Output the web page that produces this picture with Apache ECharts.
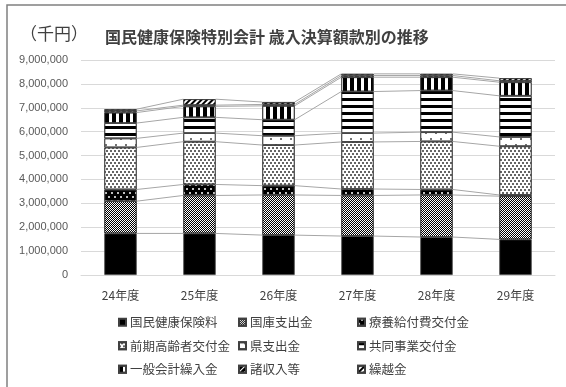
<!DOCTYPE html>
<html><head><meta charset="utf-8">
<script src="https://cdn.jsdelivr.net/npm/echarts@6/dist/echarts.min.js"></script>
<style>html,body{margin:0;padding:0;background:#fff}#c{width:566px;height:387px}</style>
</head><body><div id="c"></div>
<script>
const categories = ['24年度','25年度','26年度','27年度','28年度','29年度'];
const hokenryo   = [1740000, 1740000, 1670000, 1630000, 1590000, 1490000];
const kokko      = [1350000, 1590000, 1680000, 1700000, 1760000, 1810000];
const ryoyo      = [490000, 460000, 390000, 270000, 230000, 50000];
const zenki      = [1760000, 1790000, 1700000, 1970000, 2010000, 2040000];
const ken        = [380000, 360000, 390000, 370000, 390000, 390000];
const kyodo      = [640000, 660000, 670000, 1740000, 1740000, 1720000];
const ippan      = [440000, 460000, 580000, 600000, 560000, 570000];
const shoshunyu  = [70000, 50000, 60000, 70000, 70000, 60000];
const kurikoshi  = [70000, 250000, 100000, 70000, 70000, 110000];
const seriesNames = ['国民健康保険料','国庫支出金','療養給付費交付金','前期高齢者交付金','県支出金','共同事業交付金','一般会計繰入金','諸収入等','繰越金'];
const yTicks = [0,1000000,2000000,3000000,4000000,5000000,6000000,7000000,8000000,9000000];

const seriesData = [hokenryo,kokko,ryoyo,zenki,ken,kyodo,ippan,shoshunyu,kurikoshi];
const styles = [
  {color:'#000'},
  {color:'#fff', decal:{symbol:'rect', symbolSize:1, color:'#000', dashArrayX:[[1,1],[0,1,1,0]], dashArrayY:[1,0]}},
  {color:'#000', decal:{symbol:'circle', symbolSize:1, color:'#fff', dashArrayX:[[2,4],[0,3,2,1]], dashArrayY:[2,2]}},
  {color:'#fff', decal:{symbol:'circle', symbolSize:1, color:'#333', dashArrayX:[[1.5,1.5],[0,1.5,1.5,0]], dashArrayY:[1.5,0.5]}},
  {color:'#fff', decal:{symbol:'circle', symbolSize:1, color:'#444', dashArrayX:[[2,8],[0,5,2,3]], dashArrayY:[2,4]}},
  {color:'#fff', decal:{symbol:'rect', symbolSize:1, color:'#000', dashArrayX:[1,0], dashArrayY:[3,4]}},
  {color:'#fff', decal:{symbol:'rect', symbolSize:1, color:'#000', dashArrayX:[4,3], dashArrayY:[1,0]}},
  {color:'#000', decal:{symbol:'rect', symbolSize:1, color:'#fff', dashArrayX:[1,0], dashArrayY:[1,3], rotation:-Math.PI/4}},
  {color:'#fff', decal:{symbol:'rect', symbolSize:1, color:'#000', dashArrayX:[1,0], dashArrayY:[2,2], rotation:-Math.PI/4}}
];
const BAR_RATIO = 0.41;

// cumulative tops for series lines
const cum = [];
let run = categories.map(() => 0);
seriesData.forEach(arr => { run = run.map((v,i)=>v+arr[i]); cum.push(run.slice()); });

const font = 'Noto Sans CJK JP';
const series = seriesData.map((arr,k) => ({
  name: seriesNames[k], type:'bar', stack:'total', barWidth: (BAR_RATIO*100)+'%',
  data: arr, z: 3,
  itemStyle: Object.assign({borderColor:'#404040', borderWidth:0.8}, styles[k]),
  emphasis:{disabled:true}
}));
series.push({
  type:'custom', z: 2, silent:true,
  data: categories.slice(0,-1).map((c,i)=>[i, 0]),
  encode:{x:0, y:1},
  renderItem: function(params, api){
    const i = api.value(0);
    const band = api.size([1,0])[0];
    const half = band*BAR_RATIO/2;
    const children = cum.map(level => {
      const a = api.coord([i, level[i]]);
      const b = api.coord([i+1, level[i+1]]);
      return {type:'line', shape:{x1:a[0]+half, y1:a[1], x2:b[0]-half, y2:b[1]}, style:{stroke:'#a6a6a6', lineWidth:1}};
    });
    return {type:'group', children};
  }
});

const legendCommon = {orient:'vertical', itemWidth:7, itemHeight:7, itemGap:11, icon:'rect',
  textStyle:{fontSize:12.5, color:'#404040', fontFamily:font, padding:[0,0,0,-1]}, selectedMode:false, top:311};
const chart = echarts.init(document.getElementById('c'));
chart.setOption({
  animation:false,
  grid:{left:81, right:11, top:60, bottom:112},
  title:{text:'国民健康保険特別会計 歳入決算額款別の推移', left:100, top:24,
    textStyle:{fontSize:16, fontWeight:'bold', color:'#404040', fontFamily:font}},
  graphic:[
    {type:'rect', shape:{x:7, y:5, width:600, height:420}, style:{fill:'none', stroke:'#808080', lineWidth:1.5}, silent:true},
    {type:'text', left:20, top:25, style:{text:'（千円）', fontSize:17, fill:'#404040', fontFamily:font}}
  ],
  legend:[
    Object.assign({left:113, data:[seriesNames[0],seriesNames[3],seriesNames[6]]}, legendCommon),
    Object.assign({left:233, data:[seriesNames[1],seriesNames[4],seriesNames[7]]}, legendCommon),
    Object.assign({left:352, data:[seriesNames[2],seriesNames[5],seriesNames[8]]}, legendCommon)
  ],
  xAxis:{type:'category', data:categories,
    axisLine:{lineStyle:{color:'#d9d9d9'}}, axisTick:{show:false},
    axisLabel:{fontSize:12, color:'#404040', fontFamily:font, margin:14}},
  yAxis:{type:'value', min:yTicks[0], max:yTicks[yTicks.length-1], interval:yTicks[1]-yTicks[0],
    axisLine:{show:false}, axisTick:{show:false},
    splitLine:{lineStyle:{color:'#d9d9d9'}},
    axisLabel:{fontSize:11, color:'#595959', fontFamily:'Liberation Sans', margin:13,
      formatter:v=>v.toLocaleString('en-US')}},
  series
});
</script></body></html>
